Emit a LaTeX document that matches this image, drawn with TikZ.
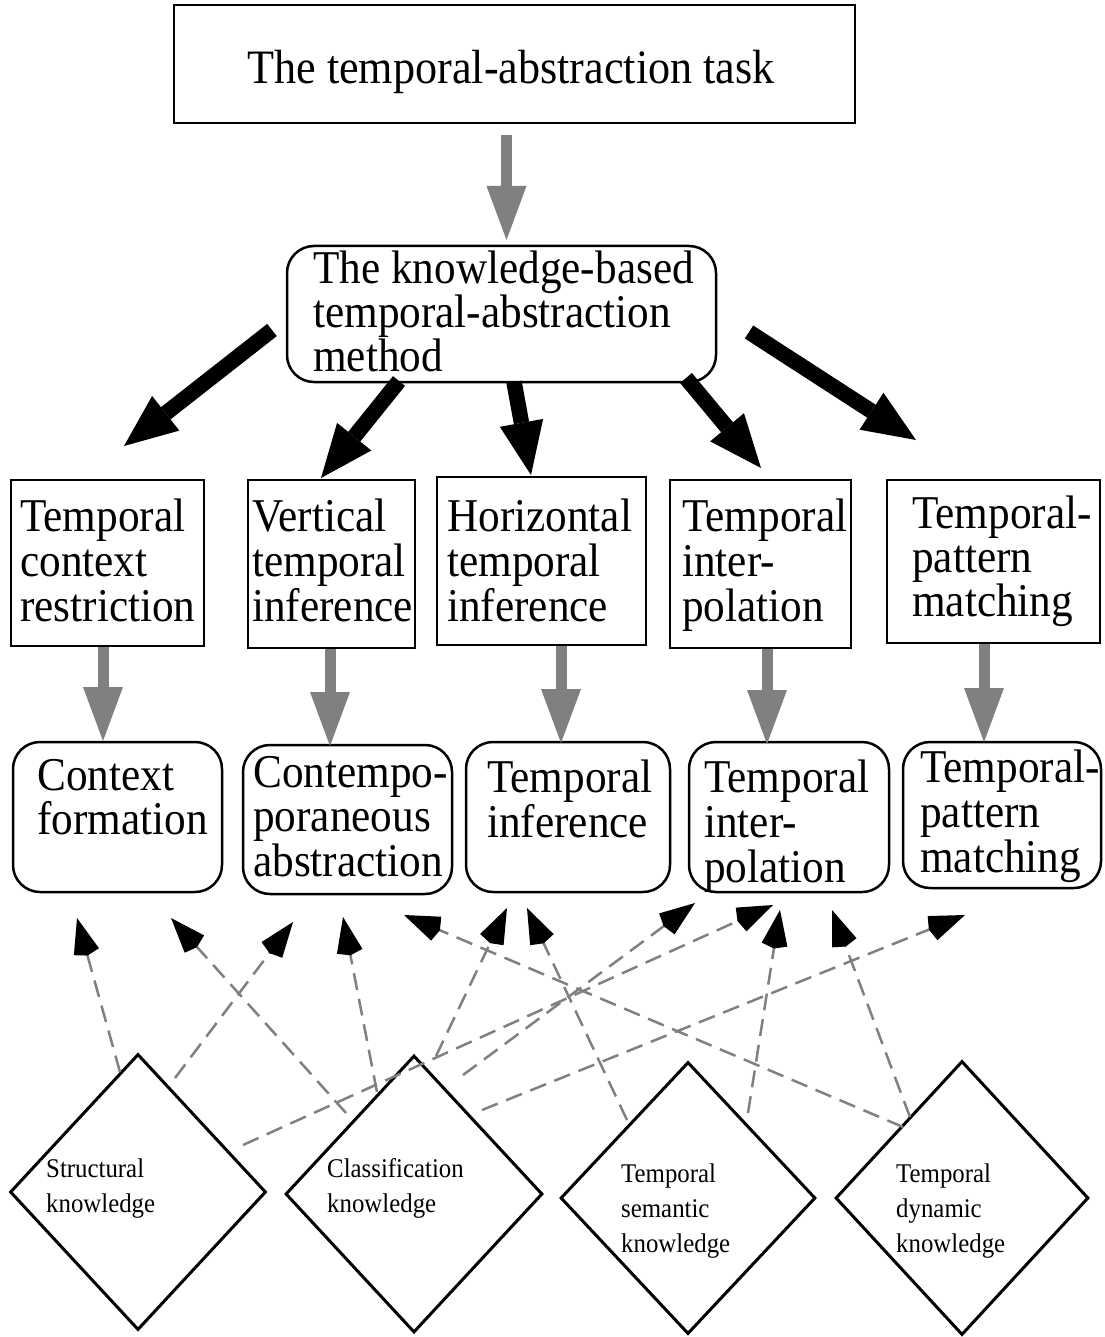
\documentclass[tikz,border=0pt]{standalone}
\usepackage{fontspec}
\setmainfont{Liberation Serif}[FakeStretch=0.92]
\usetikzlibrary{arrows.meta,shapes.geometric}
\definecolor{arrgray}{HTML}{808080}
\tikzset{
  titletxt/.style={font=\fontsize{48}{45}\selectfont, anchor=base, inner sep=0pt},
  bigtxt/.style={font=\fontsize{47}{45}\selectfont, anchor=base west, align=left, inner sep=0pt},
  smalltxt/.style={font=\fontsize{27}{35}\selectfont, anchor=base west, align=left, inner sep=0pt},
  sqbox/.style={draw, line width=2.5pt, rectangle, inner sep=0pt},
  rdbox/.style={draw, line width=2.5pt, rectangle, rounded corners=27pt, inner sep=0pt},
  kbox/.style={draw, line width=3pt, diamond, inner sep=0pt},
  bigarrow/.style={line width=15.5pt, -{Triangle[length=53pt 0,width=44pt 0,line width=0pt]}},
  grayarrow/.style={draw=arrgray, line width=11pt, -{Triangle[length=54pt 0,width=40pt 0,line width=0pt,color=arrgray]}},
  dasharrow/.style={draw=arrgray, line width=2.5pt, dash pattern=on 17pt off 9pt, -{Kite[length=39pt 0,width=26pt 0,inset=4pt 0,line width=0pt,color=black]}}
}
\begin{document}
\begin{tikzpicture}[x=1pt,y=-1pt]
\useasboundingbox (0,0) rectangle (1104,1337);

% boxes (text nodes are anchored at the baseline of their last line)
\node[sqbox, minimum width=681pt, minimum height=118pt] (task) at (514.5,64) {};
\node[titletxt] (tasktxt) at (511,84) {The temporal-abstraction task};

\node[rdbox, minimum width=429pt, minimum height=136pt] (method) at (501.5,314) {};
\node[bigtxt, font=\fontsize{47}{44}\selectfont] (methodtxt) at (313,371) {The knowledge-based\\temporal-abstraction\\method};

\node[sqbox, minimum width=193pt, minimum height=166pt] (r1) at (107.5,563) {};
\node[sqbox, minimum width=167pt, minimum height=168pt] (r2) at (331.5,564) {};
\node[sqbox, minimum width=209pt, minimum height=168pt] (r3) at (541.5,561) {};
\node[sqbox, minimum width=181pt, minimum height=168pt] (r4) at (760.5,564) {};
\node[sqbox, minimum width=213pt, minimum height=163pt] (r5) at (993.5,561.5) {};
\node[bigtxt] (r1txt) at (20,621) {Temporal\\context\\restriction};
\node[bigtxt] (r2txt) at (252,621) {Vertical\\temporal\\inference};
\node[bigtxt] (r3txt) at (447,621) {Horizontal\\temporal\\inference};
\node[bigtxt] (r4txt) at (682,621) {Temporal\\inter-\\polation};
\node[bigtxt, font=\fontsize{47}{44}\selectfont] (r5txt) at (912,616) {Temporal-\\pattern\\matching};

\node[rdbox, minimum width=209pt, minimum height=150pt] (b1) at (117.5,817) {};
\node[rdbox, minimum width=209pt, minimum height=149pt] (b2) at (347.5,819.5) {};
\node[rdbox, minimum width=204pt, minimum height=150pt] (b3) at (568,817) {};
\node[rdbox, minimum width=200pt, minimum height=150pt] (b4) at (789,817) {};
\node[rdbox, minimum width=198pt, minimum height=146pt] (b5) at (1002,815) {};
\node[bigtxt, font=\fontsize{47}{44}\selectfont] (b1txt) at (37,834) {Context\\formation};
\node[bigtxt, font=\fontsize{47}{44.5}\selectfont] (b2txt) at (253,876) {Contempo-\\poraneous\\abstraction};
\node[bigtxt] (b3txt) at (487,837) {Temporal\\inference};
\node[bigtxt] (b4txt) at (704,882) {Temporal\\inter-\\polation};
\node[bigtxt] (b5txt) at (920,872) {Temporal-\\pattern\\matching};

% knowledge diamonds
\node[kbox, minimum width=256pt, minimum height=276pt] (d1) at (138,1192) {};
\node[kbox, minimum width=257pt, minimum height=277pt] (d2) at (414,1194) {};
\node[kbox, minimum width=255pt, minimum height=272pt] (d3) at (688,1198) {};
\node[kbox, minimum width=253pt, minimum height=274pt] (d4) at (962,1198) {};
\node[smalltxt] (d1txt) at (46,1212) {Structural\\knowledge};
\node[smalltxt] (d2txt) at (327,1212) {Classification\\knowledge};
\node[smalltxt] (d3txt) at (621,1252) {Temporal\\semantic\\knowledge};
\node[smalltxt] (d4txt) at (896,1252) {Temporal\\dynamic\\knowledge};

% gray arrows
\coordinate (g0s) at (506.5,135); \coordinate (g0e) at (506.5,240);
\coordinate (g1s) at (103,647);  \coordinate (g1e) at (103,741);
\coordinate (g2s) at (330,649);  \coordinate (g2e) at (330,746);
\coordinate (g3s) at (561,646);  \coordinate (g3e) at (561,743);
\coordinate (g4s) at (767,649);  \coordinate (g4e) at (767,744);
\coordinate (g5s) at (984,644);  \coordinate (g5e) at (984,742);
\foreach \i in {0,...,5} { \draw[grayarrow] (g\i s) -- (g\i e); }

% black arrows from the method
\coordinate (a1s) at (272,330); \coordinate (a1e) at (124,446);
\coordinate (a2s) at (399,381); \coordinate (a2e) at (321,478);
\coordinate (a3s) at (514,382); \coordinate (a3e) at (531,475);
\coordinate (a4s) at (686,378); \coordinate (a4e) at (761,468);
\coordinate (a5s) at (749,332); \coordinate (a5e) at (916,440);
\foreach \i in {1,...,5} { \draw[bigarrow] (a\i s) -- (a\i e); }

% dashed knowledge arrows
\coordinate (k1s) at (120,1072);  \coordinate (k1e) at (77,918);
\coordinate (k2s) at (346,1113);  \coordinate (k2e) at (171,918);
\coordinate (k3s) at (175,1078);  \coordinate (k3e) at (293,922);
\coordinate (k4s) at (377,1092);  \coordinate (k4e) at (343,917);
\coordinate (k5s) at (903,1127);  \coordinate (k5e) at (404,915);
\coordinate (k6s) at (436,1056);  \coordinate (k6e) at (507,908);
\coordinate (k7s) at (627,1120);  \coordinate (k7e) at (527,908);
\coordinate (k8s) at (463,1075);  \coordinate (k8e) at (695,903);
\coordinate (k9s) at (243,1145);  \coordinate (k9e) at (773,905);
\coordinate (k10s) at (748,1113); \coordinate (k10e) at (780,910);
\coordinate (k11s) at (910,1117); \coordinate (k11e) at (832,910);
\coordinate (k12s) at (482,1110); \coordinate (k12e) at (965,915);
\foreach \i in {1,...,12} { \draw[dasharrow] (k\i s) -- (k\i e); }
\end{tikzpicture}
\end{document}
